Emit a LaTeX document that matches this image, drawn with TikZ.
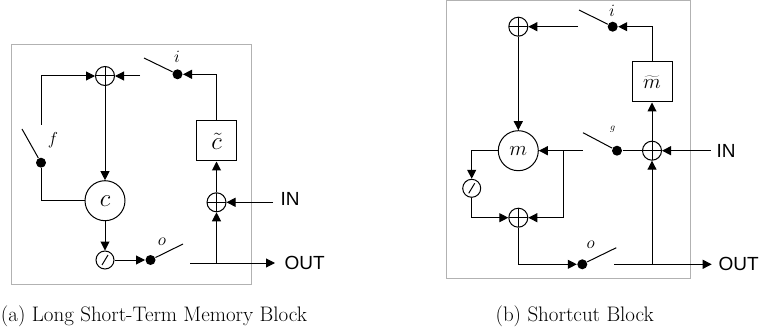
\documentclass[tikz,border=0pt]{standalone}
\usepackage{fontspec}
\setsansfont{Liberation Sans}
\usetikzlibrary{arrows.meta}
\begin{document}
\begin{tikzpicture}[x=1pt,y=-1pt,line width=1pt]
  \tikzstyle{arrow}=[-{Triangle[length=9pt,width=9pt]}]
  \tikzstyle{frame}=[draw=black!30,line width=1pt]
  \tikzstyle{cell}=[circle,draw,minimum size=40pt,inner sep=0pt,font=\huge]
  \tikzstyle{gate}=[draw,minimum size=40pt,inner sep=0pt,font=\huge]
  \tikzstyle{dot}=[circle,fill=black,minimum size=10pt,inner sep=0pt]
  \tikzstyle{sum}=[circle,draw,minimum size=19pt,inner sep=0pt,path picture={
    \draw (path picture bounding box.north) -- (path picture bounding box.south);
    \draw (path picture bounding box.west) -- (path picture bounding box.east);}]
  \tikzstyle{squash}=[circle,draw,minimum size=18pt,inner sep=0pt,path picture={
    \draw ([shift={(-3pt,-5pt)}]path picture bounding box.center) -- ([shift={(3pt,5pt)}]path picture bounding box.center);}]
  \tikzstyle{port}=[font=\sffamily\fontsize{19}{23}\selectfont,inner sep=0pt]
  \tikzstyle{flag}=[inner sep=0pt,font=\LARGE]
  \tikzstyle{caption}=[inner sep=0pt,font=\fontsize{21}{25}\selectfont]
  \useasboundingbox (0,0) rectangle (760,331);

  \node[frame,minimum width=240pt,minimum height=240.5pt,inner sep=0pt] (blocka) at (131,164.7) {};
  \node[sum] (suma) at (105,76) {};
  \node[cell,font=\Huge] (ca) at (105,200.7) {$c$};
  \node[squash] (squasha) at (105,260) {};
  \node[sum] (sumina) at (216.5,202.3) {};
  \node[gate,font=\Huge] (ctilde) at (216.5,141) {$\tilde{c}$};
  \node[dot] (ia) at (177.5,74.3) {};
  \node[dot] (fa) at (41,162.7) {};
  \node[dot] (oa) at (150.5,260) {};
  \node[flag] (ilabela) at (177,57) {$i$};
  \node[flag] (flabela) at (53,140) {$f$};
  \node[flag] (olabela) at (162,242) {$o$};
  \node[port,anchor=west] (ina) at (280,199) {IN};
  \node[port,anchor=west] (outa) at (284,263) {OUT};
  \node[caption] (capa) at (154,316) {(a) Long Short-Term Memory Block};
  \coordinate (iopena) at (144,58);
  \coordinate (iflowa) at (140,76);
  \coordinate (fopena) at (22,129);
  \coordinate (fflowa) at (41,125);
  \coordinate (oopena) at (183,244);
  \coordinate (ooutb) at (190,263);
  \coordinate (ooutc) at (275,263);
  \coordinate (joina) at (216.5,263);
  \coordinate (inend) at (273,202.3);

  \draw (iopena) -- (ia);
  \draw (fopena) -- (fa);
  \draw (oopena) -- (oa);
  \draw (fa) |- (ca);
  \draw[arrow] (fflowa) |- (suma);
  \draw[arrow] (iflowa) -- (suma);
  \draw[arrow] (suma) -- (ca);
  \draw[arrow] (ca) -- (squasha);
  \draw[arrow] (squasha) -- (oa);
  \draw[arrow] (ctilde) |- (ia);
  \draw[arrow] (sumina) -- (ctilde);
  \draw[arrow] (joina) -- (sumina);
  \draw[arrow] (inend) -- (sumina);
  \draw[arrow] (ooutb) -- (ooutc);

  \node[frame,minimum width=244pt,minimum height=278.5pt,inner sep=0pt] (blockb) at (568.7,139.7) {};
  \node[sum] (sumb) at (518.3,26.7) {};
  \node[cell] (mb) at (518.3,150.7) {$m$};
  \node[squash] (squashb) at (471.7,188.3) {};
  \node[sum] (summidb) at (518.3,217.7) {};
  \node[sum] (suminb) at (652,150.7) {};
  \node[gate] (mtilde) at (652,82) {$\widetilde{m}$};
  \node[dot] (ib) at (612.7,26.7) {};
  \node[dot] (gb) at (617,150.7) {};
  \node[dot] (ob) at (582.3,264.3) {};
  \node[flag] (ilabelb) at (612,11) {$i$};
  \node[flag,font=\normalsize] (glabelb) at (612.7,129) {$g$};
  \node[flag] (olabelb) at (590.7,245) {$o$};
  \node[port,anchor=west] (inb) at (716,151) {IN};
  \node[port,anchor=west] (outb) at (718,264.3) {OUT};
  \node[caption] (capb) at (574.7,316) {(b) Shortcut Block};
  \coordinate (iopenb) at (579,10);
  \coordinate (iflowb) at (578,26.7);
  \coordinate (gopenb) at (583,132.7);
  \coordinate (gflowb) at (582.7,150.7);
  \coordinate (branchb) at (563.3,150.7);
  \coordinate (oopenb) at (616.3,247.7);
  \coordinate (ooutd) at (614,264.3);
  \coordinate (oute) at (711.7,264.3);
  \coordinate (joinb) at (652,264.3);
  \coordinate (inendb) at (710.7,150.7);

  \draw (iopenb) -- (ib);
  \draw (gopenb) -- (gb);
  \draw (oopenb) -- (ob);
  \draw (gb) -- (suminb);
  \draw[arrow] (iflowb) -- (sumb);
  \draw[arrow] (sumb) -- (mb);
  \draw[arrow] (gflowb) -- (mb);
  \draw[arrow] (branchb) |- (summidb);
  \draw[arrow] (mb.west) -| (squashb);
  \draw[arrow] (squashb) |- (summidb);
  \draw[arrow] (summidb) |- (ob);
  \draw[arrow] (mtilde) |- (ib);
  \draw[arrow] (suminb) -- (mtilde);
  \draw[arrow] (joinb) -- (suminb);
  \draw[arrow] (inendb) -- (suminb);
  \draw[arrow] (ooutd) -- (oute);
\end{tikzpicture}
\end{document}
